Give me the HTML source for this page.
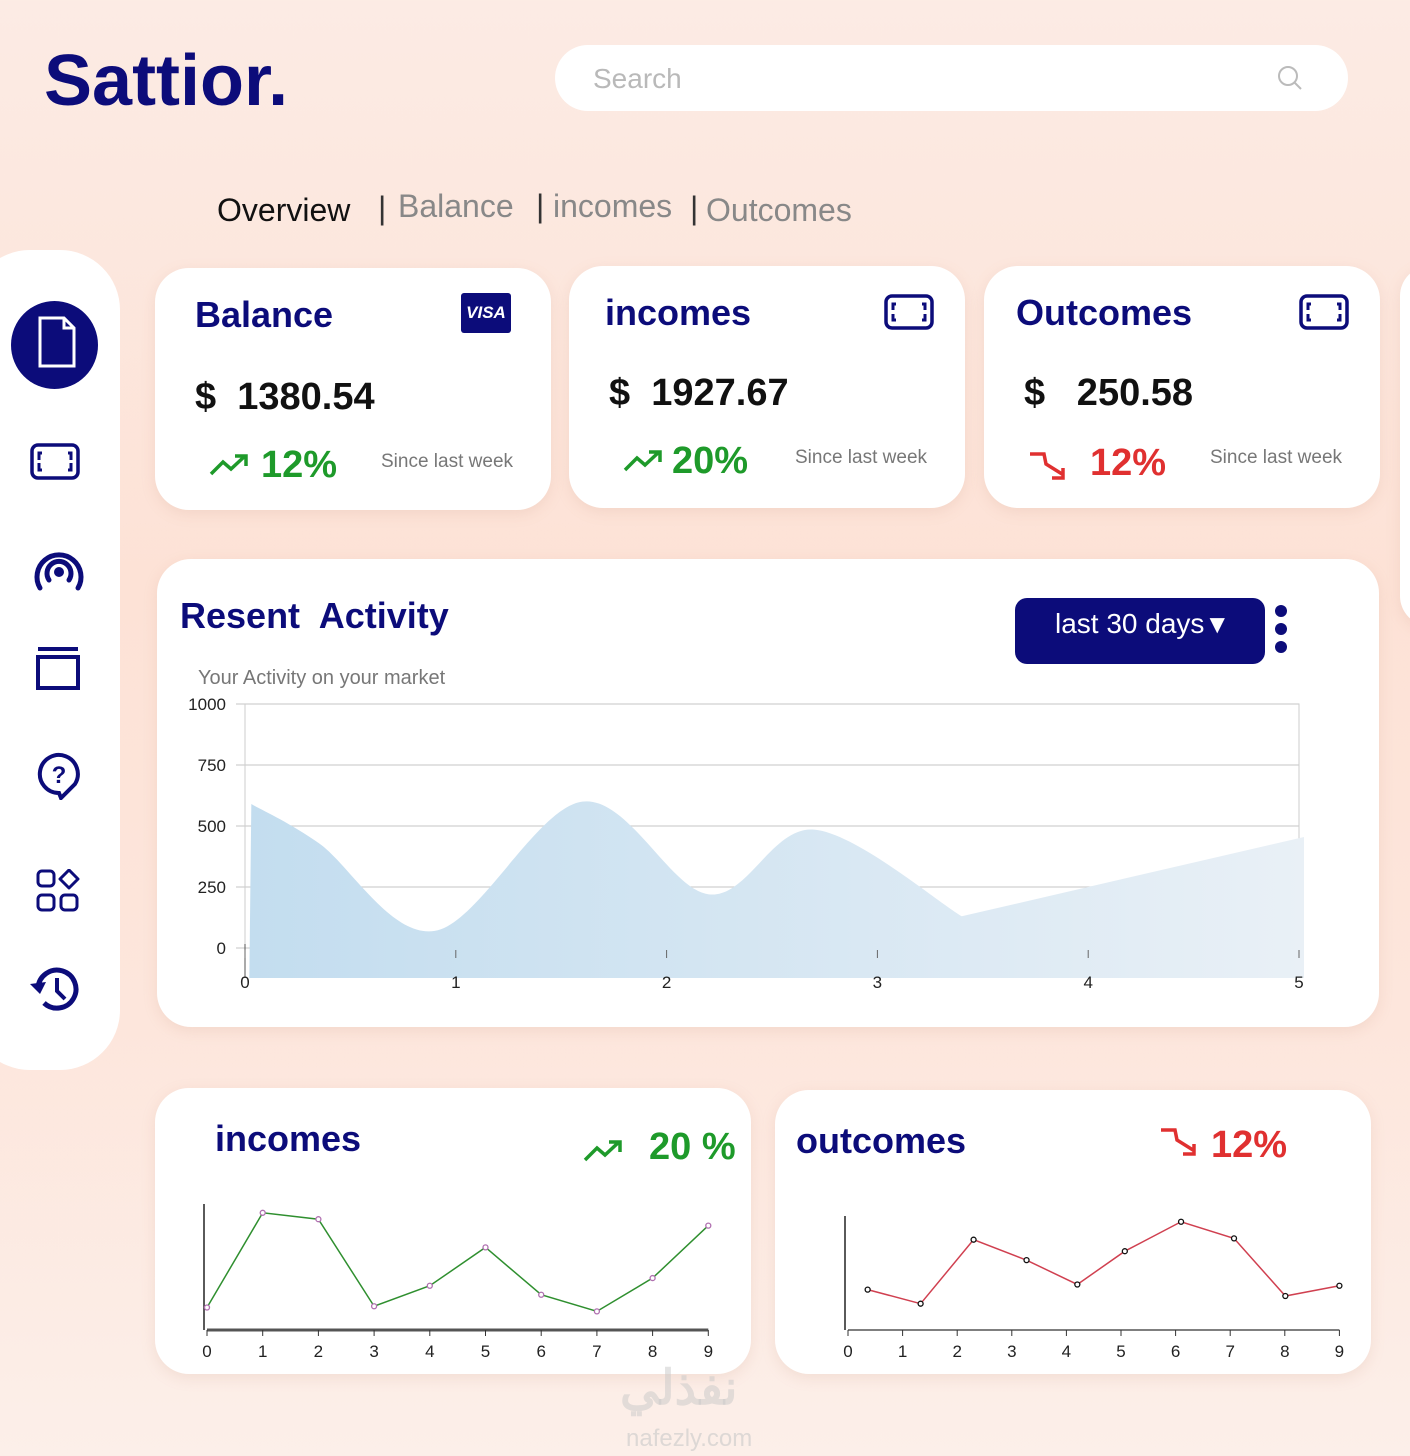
<!DOCTYPE html>
<html><head><meta charset="utf-8">
<style>
*{box-sizing:border-box;margin:0;padding:0}
body{width:1410px;height:1456px;overflow:hidden;font-family:"Liberation Sans",sans-serif;background:linear-gradient(180deg,#fcebe4 0%,#fde2d6 40%,#fde6dc 70%,#fcefe9 100%);position:relative}
.abs{position:absolute}
.card{position:absolute;background:#fff;border-radius:34px;box-shadow:0 4px 14px rgba(200,150,130,.18)}
.navy{color:#0c0c7a}
.t{position:absolute;white-space:nowrap}
</style></head><body>
<div class="t navy" style="left:44px;top:40px;font-size:72px;font-weight:bold;letter-spacing:0px">Sattior<span style="color:#0c0c7a">.</span></div>
<div class="abs" style="left:555px;top:45px;width:793px;height:66px;background:#fff;border-radius:33px">
 <span class="t" style="left:38px;top:18px;font-size:28px;color:#b9b9b9">Search</span>
 <svg class="abs" style="left:722px;top:20px" width="26" height="26"><circle cx="11" cy="11" r="9" fill="none" stroke="#bbb" stroke-width="2"/><line x1="17" y1="17" x2="24" y2="24" stroke="#bbb" stroke-width="2"/></svg>
</div>
<div class="t" style="left:217px;top:192px;font-size:32px;color:#111">Overview</div>
<div class="t" style="left:378px;top:190px;font-size:32px;color:#333">|</div>
<div class="t" style="left:398px;top:188px;font-size:32px;color:#888">Balance</div>
<div class="t" style="left:536px;top:188px;font-size:32px;color:#333">|</div>
<div class="t" style="left:553px;top:188px;font-size:32px;color:#888">incomes</div>
<div class="t" style="left:690px;top:190px;font-size:32px;color:#333">|</div>
<div class="t" style="left:706px;top:192px;font-size:32px;color:#888">Outcomes</div>

<div class="abs" style="left:-30px;top:250px;width:150px;height:820px;background:#fff;border-radius:60px"></div>
<div class="abs" style="left:11px;top:301px;width:87px;height:88px;border-radius:50%;background:#0c0c7a"></div>
<svg class="abs" style="left:38px;top:316px" width="38" height="52"><path d="M2 2H26L36 12V50H2Z" fill="none" stroke="#fff" stroke-width="3"/><path d="M26 2V12H36" fill="none" stroke="#fff" stroke-width="3"/></svg>
<svg class="abs" style="left:30px;top:443px" width="50" height="37"><rect x="2" y="2" width="46" height="33" rx="6" fill="none" stroke="#0c0c7a" stroke-width="3.5"/><path d="M12 10H9V17M38 10H41V17M12 27H9V20M38 27H41V20" fill="none" stroke="#0c0c7a" stroke-width="3"/></svg>
<svg class="abs" style="left:30px;top:544px" width="58" height="50"><path d="M10 44A22 22 0 1 1 48 44" fill="none" stroke="#0c0c7a" stroke-width="5" stroke-linecap="round"/><path d="M19 36A12 12 0 1 1 39 36" fill="none" stroke="#0c0c7a" stroke-width="5" stroke-linecap="round"/><circle cx="29" cy="28" r="5" fill="#0c0c7a"/></svg>
<svg class="abs" style="left:36px;top:647px" width="44" height="44"><rect x="2" y="0" width="40" height="4" fill="#0c0c7a"/><rect x="2" y="10" width="40" height="31" fill="none" stroke="#0c0c7a" stroke-width="4"/></svg>
<svg class="abs" style="left:37px;top:752px" width="44" height="48"><path d="M22 41A19 19 0 1 1 38 32L24 46Z" fill="none" stroke="#0c0c7a" stroke-width="4"/><text x="22" y="31" font-size="24" font-weight="bold" fill="#0c0c7a" text-anchor="middle" font-family="Liberation Sans">?</text></svg>
<svg class="abs" style="left:36px;top:869px" width="44" height="44"><rect x="2" y="2" width="16" height="15" rx="4" fill="none" stroke="#0c0c7a" stroke-width="3"/><path d="M33 1L42 10L33 19L24 10Z" fill="none" stroke="#0c0c7a" stroke-width="3" stroke-linejoin="round"/><rect x="2" y="26" width="16" height="15" rx="4" fill="none" stroke="#0c0c7a" stroke-width="3"/><rect x="25" y="26" width="16" height="15" rx="4" fill="none" stroke="#0c0c7a" stroke-width="3"/></svg>
<svg class="abs" style="left:28px;top:966px" width="52" height="48"><path d="M10 22A19 19 0 1 1 16 37" fill="none" stroke="#0c0c7a" stroke-width="5"/><path d="M2 18L12 28L18 16Z" fill="#0c0c7a"/><path d="M29 12V25L37 33" fill="none" stroke="#0c0c7a" stroke-width="4"/></svg>

<!-- stat cards -->
<div class="card" style="left:155px;top:268px;width:396px;height:242px">
 <div class="t navy" style="left:40px;top:26px;font-size:36px;font-weight:bold">Balance</div>
 <div class="abs" style="left:306px;top:25px;width:50px;height:40px;background:#0c0c7a;border-radius:3px;color:#fff;font-size:17px;font-weight:bold;font-style:italic;text-align:center;line-height:40px">VISA</div>
 <div class="t" style="left:40px;top:108px;font-size:38px;font-weight:bold;color:#111">$&nbsp; 1380.54</div>
 <svg class="abs" style="left:54px;top:184px" width="40" height="24"><path d="M2 22L14 10L22 17L36 4M26 4H37V14" fill="none" stroke="#1e9a2a" stroke-width="3.5"/></svg>
 <div class="t" style="left:106px;top:176px;font-size:38px;font-weight:bold;color:#1e9a2a">12%</div>
 <div class="t" style="left:226px;top:183px;font-size:19px;color:#777">Since last week</div>
</div>
<div class="card" style="left:569px;top:266px;width:396px;height:242px">
 <div class="t navy" style="left:36px;top:26px;font-size:36px;font-weight:bold">incomes</div>
 <svg class="abs" style="left:315px;top:28px" width="50" height="36"><rect x="2" y="2" width="46" height="32" rx="6" fill="none" stroke="#0c0c7a" stroke-width="3.5"/><path d="M12 10H9V16M38 10H41V16M12 26H9V20M38 26H41V20" fill="none" stroke="#0c0c7a" stroke-width="3"/></svg>
 <div class="t" style="left:40px;top:106px;font-size:38px;font-weight:bold;color:#111">$&nbsp; 1927.67</div>
 <svg class="abs" style="left:54px;top:182px" width="40" height="24"><path d="M2 22L14 10L22 17L36 4M26 4H37V14" fill="none" stroke="#1e9a2a" stroke-width="3.5"/></svg>
 <div class="t" style="left:103px;top:174px;font-size:38px;font-weight:bold;color:#1e9a2a">20%</div>
 <div class="t" style="left:226px;top:181px;font-size:19px;color:#777">Since last week</div>
</div>
<div class="card" style="left:984px;top:266px;width:396px;height:242px">
 <div class="t navy" style="left:32px;top:26px;font-size:36px;font-weight:bold">Outcomes</div>
 <svg class="abs" style="left:315px;top:28px" width="50" height="36"><rect x="2" y="2" width="46" height="32" rx="6" fill="none" stroke="#0c0c7a" stroke-width="3.5"/><path d="M12 10H9V16M38 10H41V16M12 26H9V20M38 26H41V20" fill="none" stroke="#0c0c7a" stroke-width="3"/></svg>
 <div class="t" style="left:40px;top:106px;font-size:38px;font-weight:bold;color:#111">$&nbsp;&nbsp; 250.58</div>
 <svg class="abs" style="left:44px;top:184px" width="40" height="32"><path d="M2 4H16L18 14L34 24M24 28H35V18" fill="none" stroke="#e03030" stroke-width="3.5"/></svg>
 <div class="t" style="left:106px;top:176px;font-size:38px;font-weight:bold;color:#e03030">12%</div>
 <div class="t" style="left:226px;top:181px;font-size:19px;color:#777">Since last week</div>
</div>
<div class="card" style="left:1400px;top:266px;width:60px;height:360px"></div>

<!-- activity -->
<div class="card" style="left:157px;top:559px;width:1222px;height:468px">
 <div class="t navy" style="left:23px;top:36px;font-size:36px;font-weight:bold">Resent&nbsp; Activity</div>
 <div class="t" style="left:41px;top:108px;font-size:20px;color:#777">Your Activity on your market</div>
 <div class="abs" style="left:858px;top:39px;width:250px;height:66px;background:#0c0c7a;border-radius:12px;color:#fff;font-size:28px;padding:10px 0 0 40px">last 30 days<span style="font-size:26px">▼</span></div>
 <div class="abs" style="left:1118px;top:46px;width:12px">
  <div style="width:12px;height:12px;border-radius:50%;background:#0c0c7a;margin-bottom:6px"></div><div style="width:12px;height:12px;border-radius:50%;background:#0c0c7a;margin-bottom:6px"></div><div style="width:12px;height:12px;border-radius:50%;background:#0c0c7a"></div>
 </div>
</div>
<svg class="abs" id="main" style="left:0;top:0" width="1410" height="1456"></svg>

<div class="card" style="left:155px;top:1088px;width:596px;height:286px">
 <div class="t navy" style="left:60px;top:30px;font-size:36px;font-weight:bold">incomes</div>
 <svg class="abs" style="left:428px;top:50px" width="40" height="24"><path d="M2 22L14 10L22 17L36 4M26 4H37V14" fill="none" stroke="#1e9a2a" stroke-width="3.5"/></svg>
 <div class="t" style="left:494px;top:38px;font-size:38px;font-weight:bold;color:#1e9a2a">20 %</div>
</div>
<div class="card" style="left:775px;top:1090px;width:596px;height:284px">
 <div class="t navy" style="left:21px;top:30px;font-size:36px;font-weight:bold">outcomes</div>
 <svg class="abs" style="left:384px;top:36px" width="40" height="32"><path d="M2 4H16L18 14L34 24M24 28H35V18" fill="none" stroke="#e03030" stroke-width="3.5"/></svg>
 <div class="t" style="left:436px;top:34px;font-size:38px;font-weight:bold;color:#e03030">12%</div>
</div>
<svg class="abs" id="small" style="left:0;top:0" width="1410" height="1456"></svg>
<div class="t" style="left:620px;top:1360px;font-size:48px;font-weight:bold;color:rgba(200,200,200,.5)">نفذلي</div>
<div class="t" style="left:626px;top:1425px;font-size:24px;color:rgba(200,200,200,.6)">nafezly.com</div>

<script>
const NS='http://www.w3.org/2000/svg';
const actX=[0.03,0.35,0.9,1.6,2.2,2.7,3.4,5.0];
const actY=[590,430,70,600,220,485,130,455];
const yTicks=[0,250,500,750,1000];
const xTicks=[0,1,2,3,4,5];
const incVals=[1.6,9.0,8.5,1.7,3.3,6.3,2.6,1.3,3.9,8.0];
const incX=[0,1,2,3,4,5,6,7,8,9];
const outX=[0.36,1.33,2.3,3.27,4.2,5.07,6.1,7.07,8.01,9.0];
const outVals=[3.0,1.9,6.9,5.3,3.4,6.0,8.3,7.0,2.5,3.3];
const cats=[0,1,2,3,4,5,6,7,8,9];
function mk(p,tag,at){const e=document.createElementNS(NS,tag);for(const k in at)e.setAttribute(k,at[k]);p.appendChild(e);return e;}
const m=document.getElementById('main');
const sx=v=>245+v*210.8, sy=v=>948-v*0.244;
const defs=mk(m,'defs',{});
const g=mk(defs,'linearGradient',{id:'ag',x1:0,x2:1,y1:0,y2:0});
mk(g,'stop',{offset:0,'stop-color':'#c3ddef'});mk(g,'stop',{offset:1,'stop-color':'#e9f0f6'});
mk(m,'rect',{x:245,y:704,width:1054,height:244,fill:'none',stroke:'#ccc'});
yTicks.forEach(t=>{const l=mk(m,'line',{x1:236,x2:1299,y1:sy(t),y2:sy(t),stroke:'#d0d0d0','stroke-width':1.3});
 const tx=mk(m,'text',{x:226,y:sy(t)+6,'text-anchor':'end','font-size':17,fill:'#222','font-family':'Liberation Sans'});tx.textContent=t;
 
 });
let pts=actX.map((x,i)=>[sx(x),sy(actY[i])]);
let d=`M${pts[0][0]-2},978 L${pts[0][0]},${pts[0][1]}`;
for(let i=0;i<6;i++){const p0=pts[Math.max(i-1,0)],p1=pts[i],p2=pts[i+1],p3=pts[Math.min(i+2,6)];
 const c1=[p1[0]+(p2[0]-p0[0])/6,p1[1]+(p2[1]-p0[1])/6],c2=[p2[0]-(p3[0]-p1[0])/6,p2[1]-(p3[1]-p1[1])/6];
 d+=` C${c1[0]},${c1[1]} ${c2[0]},${c2[1]} ${p2[0]},${p2[1]}`;}
d+=` L${pts[7][0]+5},${pts[7][1]} L${pts[7][0]+5},978 Z`;
const a=mk(m,'path',{d,fill:'url(#ag)'});


mk(m,'line',{x1:245,x2:245,y1:944,y2:978,stroke:'#555'});
xTicks.forEach(t=>{mk(m,'line',{x1:sx(t),x2:sx(t),y1:950,y2:958,stroke:'#666'});
 const tx=mk(m,'text',{x:sx(t),y:988,'text-anchor':'middle','font-size':17,fill:'#222','font-family':'Liberation Sans'});tx.textContent=t;
 
 });
const s=document.getElementById('small');
function small(x0,dx,y0,top,vx,vals,yAx,col,mcol,name){
 const X=v=>x0+v*dx,Y=v=>y0-v*12.8;
 mk(s,'line',{x1:x0-3,x2:x0-3,y1:top,y2:y0+2,stroke:'#222','stroke-width':1.5});
 mk(s,'line',{x1:x0,x2:X(9),y1:y0+2,y2:y0+2,stroke:'#555','stroke-width':name=='incomes'?3:1.5});
 cats.forEach(c=>{mk(s,'line',{x1:X(c),x2:X(c),y1:y0+2,y2:y0+8,stroke:'#333'});
  const tx=mk(s,'text',{x:X(c),y:y0+29,'text-anchor':'middle','font-size':17,fill:'#222','font-family':'Liberation Sans'});tx.textContent=c;
  
  });
 const ln=mk(s,'polyline',{points:vx.map((x,i)=>X(x)+','+Y(vals[i])).join(' '),fill:'none',stroke:col,'stroke-width':1.5});
 
 
 vx.forEach((x,i)=>{const c=mk(s,'circle',{cx:X(x),cy:Y(vals[i]),r:2.5,fill:'#fff',stroke:mcol,'stroke-width':1.3});
  
  });
}
small(207,55.7,1328,1204,incX,incVals,0,'#2f8f2f','#b070b0','incomes');
small(848,54.6,1328,1216,outX,outVals,0,'#d04050','#111','outcomes');
</script>
</body></html>
